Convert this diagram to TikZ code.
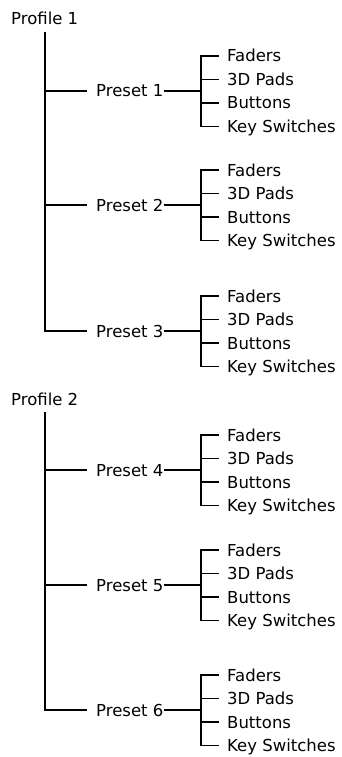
\documentclass[tikz,border=0pt]{standalone}
\usepackage{fontspec}
\setmainfont{DejaVu Sans}
\usepackage{tikz}
\usetikzlibrary{positioning}

\begin{document}
\begin{tikzpicture}[
    x=1pt, y=-1pt,
    txt/.style={anchor=west, inner sep=0pt, text height=12pt, text depth=0pt, font=\fontsize{16.5pt}{20pt}\selectfont},
    trunk/.style={line width=2.2pt},
    link/.style={line width=1.6pt}
]
\useasboundingbox (0,0) rectangle (342,757);

% ==================== PROFILE 1 ====================
\node[txt] (pf1) at (11,19) {Profile 1};
\coordinate (t1) at (45,32);

% Presets
\node[txt] (pr1) at (96,91) {Preset 1};
\node[txt] (pr2) at (96,205) {Preset 2};
\node[txt] (pr3) at (96,331) {Preset 3};

% Controls of Preset 1
\node[txt] (fa1) at (227,56) {Faders};
\node[txt] (pd1) at (227,79.5) {3D Pads};
\node[txt] (bt1) at (227,103) {Buttons};
\node[txt] (ks1) at (227,126.5) {Key Switches};

% Controls of Preset 2
\node[txt] (fa2) at (227,170) {Faders};
\node[txt] (pd2) at (227,193.5) {3D Pads};
\node[txt] (bt2) at (227,217) {Buttons};
\node[txt] (ks2) at (227,240.5) {Key Switches};

% Controls of Preset 3
\node[txt] (fa3) at (227,296) {Faders};
\node[txt] (pd3) at (227,319.5) {3D Pads};
\node[txt] (bt3) at (227,343) {Buttons};
\node[txt] (ks3) at (227,366.5) {Key Switches};

% Trunk and branches
\draw[trunk] (t1) |- ([xshift=-9pt]pr3.west);
\draw[link] ([xshift=-9pt]pr1.west) -- (t1 |- pr1.west);
\draw[link] ([xshift=-9pt]pr2.west) -- (t1 |- pr2.west);

% Brackets
\draw[link] (pr1.east) -- ([xshift=-26pt]fa1.west |- pr1.east);
\draw[link] ([xshift=-8pt]fa1.west) -| ([xshift=-26pt]ks1.west) -- ([xshift=-8pt]ks1.west);
\draw[link] ([xshift=-8pt]pd1.west) -- ([xshift=-26pt]pd1.west);
\draw[link] ([xshift=-8pt]bt1.west) -- ([xshift=-26pt]bt1.west);

\draw[link] (pr2.east) -- ([xshift=-26pt]fa2.west |- pr2.east);
\draw[link] ([xshift=-8pt]fa2.west) -| ([xshift=-26pt]ks2.west) -- ([xshift=-8pt]ks2.west);
\draw[link] ([xshift=-8pt]pd2.west) -- ([xshift=-26pt]pd2.west);
\draw[link] ([xshift=-8pt]bt2.west) -- ([xshift=-26pt]bt2.west);

\draw[link] (pr3.east) -- ([xshift=-26pt]fa3.west |- pr3.east);
\draw[link] ([xshift=-8pt]fa3.west) -| ([xshift=-26pt]ks3.west) -- ([xshift=-8pt]ks3.west);
\draw[link] ([xshift=-8pt]pd3.west) -- ([xshift=-26pt]pd3.west);
\draw[link] ([xshift=-8pt]bt3.west) -- ([xshift=-26pt]bt3.west);

% ==================== PROFILE 2 ====================
\node[txt] (pf2) at (11,399) {Profile 2};
\coordinate (t2) at (45,412);

% Presets
\node[txt] (pr4) at (96,470) {Preset 4};
\node[txt] (pr5) at (96,585) {Preset 5};
\node[txt] (pr6) at (96,710) {Preset 6};

% Controls of Preset 4
\node[txt] (fa4) at (227,435) {Faders};
\node[txt] (pd4) at (227,458.5) {3D Pads};
\node[txt] (bt4) at (227,482) {Buttons};
\node[txt] (ks4) at (227,505.5) {Key Switches};

% Controls of Preset 5
\node[txt] (fa5) at (227,550) {Faders};
\node[txt] (pd5) at (227,573.5) {3D Pads};
\node[txt] (bt5) at (227,597) {Buttons};
\node[txt] (ks5) at (227,620.5) {Key Switches};

% Controls of Preset 6
\node[txt] (fa6) at (227,675) {Faders};
\node[txt] (pd6) at (227,698.5) {3D Pads};
\node[txt] (bt6) at (227,722) {Buttons};
\node[txt] (ks6) at (227,745.5) {Key Switches};

% Trunk and branches
\draw[trunk] (t2) |- ([xshift=-9pt]pr6.west);
\draw[link] ([xshift=-9pt]pr4.west) -- (t2 |- pr4.west);
\draw[link] ([xshift=-9pt]pr5.west) -- (t2 |- pr5.west);

% Brackets
\draw[link] (pr4.east) -- ([xshift=-26pt]fa4.west |- pr4.east);
\draw[link] ([xshift=-8pt]fa4.west) -| ([xshift=-26pt]ks4.west) -- ([xshift=-8pt]ks4.west);
\draw[link] ([xshift=-8pt]pd4.west) -- ([xshift=-26pt]pd4.west);
\draw[link] ([xshift=-8pt]bt4.west) -- ([xshift=-26pt]bt4.west);

\draw[link] (pr5.east) -- ([xshift=-26pt]fa5.west |- pr5.east);
\draw[link] ([xshift=-8pt]fa5.west) -| ([xshift=-26pt]ks5.west) -- ([xshift=-8pt]ks5.west);
\draw[link] ([xshift=-8pt]pd5.west) -- ([xshift=-26pt]pd5.west);
\draw[link] ([xshift=-8pt]bt5.west) -- ([xshift=-26pt]bt5.west);

\draw[link] (pr6.east) -- ([xshift=-26pt]fa6.west |- pr6.east);
\draw[link] ([xshift=-8pt]fa6.west) -| ([xshift=-26pt]ks6.west) -- ([xshift=-8pt]ks6.west);
\draw[link] ([xshift=-8pt]pd6.west) -- ([xshift=-26pt]pd6.west);
\draw[link] ([xshift=-8pt]bt6.west) -- ([xshift=-26pt]bt6.west);

\end{tikzpicture}
\end{document}
